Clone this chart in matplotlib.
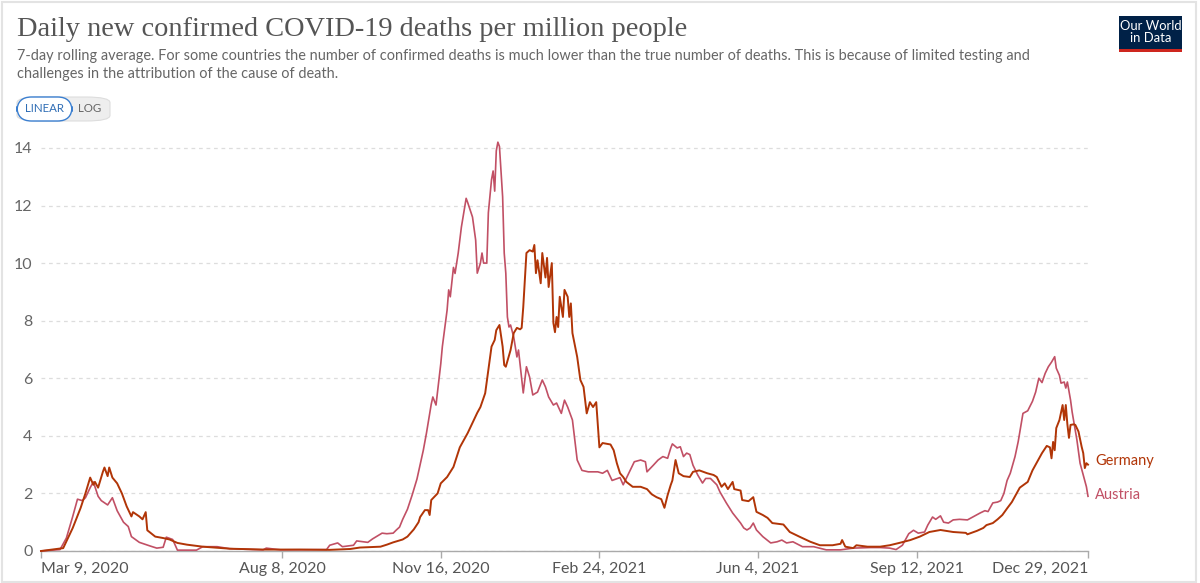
import matplotlib
matplotlib.use('Agg')
import matplotlib.pyplot as plt
import pandas as pd
from matplotlib.patches import FancyBboxPatch, Rectangle

# ---------------- data ----------------
start_date = '2020-03-09'
end_date = '2021-12-29'

austria_days = [0, 12, 16, 20, 23, 26, 28, 31, 33, 36, 38, 42, 45, 48, 52, 55, 57, 62, 69, 73,
                77, 79, 83, 86, 98, 102, 111, 119, 140, 142, 151, 180, 182, 187, 190, 197, 199, 206,
                209, 215, 218, 222, 224, 226, 228, 231, 234, 237, 239, 241, 243, 246, 247, 249, 252,
                253, 256, 257, 258, 260, 261, 263, 265, 268, 269, 272, 274, 275, 277, 278, 279, 281,
                282, 284, 285, 286, 287, 288, 289, 291, 292, 293, 294, 295, 296, 298, 300, 301, 304,
                306, 308, 310, 313, 316, 318, 320, 323, 325, 328, 330, 332, 335, 338, 341, 345, 351,
                354, 357, 360, 365, 367, 370, 374, 378, 381, 382, 386, 389, 392, 395, 397, 398, 401,
                403, 405, 407, 409, 411, 414, 417, 419, 422, 426, 428, 432, 436, 441, 443, 445, 447,
                449, 451, 455, 460, 464, 467, 470, 474, 480, 487, 495, 504, 512, 523, 529, 535, 539,
                543, 547, 550, 553, 557, 559, 562, 564, 567, 569, 572, 575, 579, 584, 588, 592, 595,
                597, 600, 603, 605, 607, 609, 611, 614, 616, 619, 622, 625, 627, 629, 631, 633, 635,
                637, 639, 640, 642, 643, 645, 646, 647, 649, 650, 653, 655, 657, 659, 660]
austria_values = [0.0, 0.05, 0.45, 1.2, 1.8, 1.75, 1.85, 2.2, 2.4, 1.9, 1.75, 1.6, 1.85, 1.4, 1.0,
                  0.85, 0.5, 0.3, 0.17, 0.1, 0.13, 0.48, 0.4, 0.03, 0.03, 0.15, 0.15, 0.08, 0.04, 0.1,
                  0.04, 0.05, 0.2, 0.28, 0.15, 0.2, 0.35, 0.3, 0.42, 0.62, 0.6, 0.62, 0.73, 0.83, 1.1,
                  1.45, 1.95, 2.5, 3.0, 3.5, 4.1, 5.1, 5.35, 5.07, 6.5, 7.1, 8.37, 9.07, 8.83, 9.85,
                  9.64, 10.35, 11.25, 12.25, 12.1, 11.6, 10.8, 9.65, 10.0, 10.35, 10.0, 10.0, 11.75,
                  12.9, 13.2, 12.5, 13.9, 14.2, 14.05, 12.3, 10.35, 9.65, 8.13, 7.78, 7.85, 7.43, 6.74,
                  6.98, 5.49, 6.4, 6.04, 5.42, 5.52, 5.94, 5.7, 5.35, 5.07, 5.14, 4.78, 5.24, 5.0,
                  4.55, 3.16, 2.8, 2.75, 2.75, 2.7, 2.8, 2.45, 2.55, 2.3, 2.64, 3.1, 3.16, 3.1, 2.75,
                  2.98, 3.16, 3.28, 3.22, 3.58, 3.72, 3.58, 3.62, 3.28, 3.4, 3.35, 2.98, 2.64, 2.36,
                  2.52, 2.52, 2.3, 2.05, 1.67, 1.32, 0.97, 0.8, 0.73, 0.8, 0.97, 0.73, 0.5, 0.28, 0.32,
                  0.38, 0.28, 0.32, 0.15, 0.15, 0.04, 0.04, 0.1, 0.12, 0.12, 0.1, 0.05, 0.2, 0.6, 0.72,
                  0.62, 0.66, 0.9, 1.18, 1.1, 1.22, 1.0, 0.97, 1.08, 1.1, 1.08, 1.2, 1.32, 1.4, 1.37,
                  1.67, 1.7, 1.75, 2.0, 2.45, 2.7, 3.28, 3.8, 4.78, 4.87, 5.2, 5.52, 6.0, 5.85, 6.17,
                  6.4, 6.56, 6.75, 6.35, 6.1, 5.83, 5.87, 5.66, 5.87, 5.24, 4.83, 3.86, 3.05, 2.64,
                  2.23, 1.9]

germany_days = [0, 14, 20, 25, 28, 31, 33, 34, 36, 39, 40, 42, 43, 45, 48, 51, 54, 57, 58, 62, 64,
                66, 67, 72, 77, 81, 86, 92, 102, 119, 140, 163, 182, 195, 201, 214, 218, 222, 228,
                231, 235, 238, 239, 242, 244, 245, 246, 250, 252, 256, 260, 264, 269, 272, 275, 277,
                280, 282, 284, 286, 287, 289, 291, 292, 293, 296, 298, 300, 302, 303, 304, 306, 308,
                310, 311, 312, 313, 315, 316, 318, 319, 320, 322, 323, 324, 325, 326, 327, 329, 330,
                332, 333, 334, 335, 338, 340, 342, 344, 346, 348, 350, 352, 354, 359, 361, 363, 365,
                367, 369, 373, 378, 382, 385, 388, 391, 393, 395, 397, 398, 400, 402, 405, 409, 411,
                415, 420, 424, 426, 429, 431, 433, 436, 437, 441, 442, 446, 449, 451, 455, 458, 461,
                468, 472, 478, 485, 491, 499, 504, 505, 507, 512, 514, 521, 529, 535, 541, 548, 554,
                560, 567, 575, 583, 584, 590, 594, 596, 600, 603, 606, 609, 612, 616, 617, 622, 625,
                628, 631, 634, 636, 637, 638, 639, 640, 642, 644, 645, 646, 647, 648, 649, 651, 652,
                654, 656, 657, 658, 659, 660]
germany_values = [0.0, 0.1, 0.8, 1.5, 2.0, 2.55, 2.3, 2.4, 2.2, 2.75, 2.9, 2.6, 2.9, 2.55, 2.35,
                  2.0, 1.55, 1.2, 1.35, 1.2, 1.1, 1.35, 0.72, 0.5, 0.45, 0.4, 0.28, 0.22, 0.15, 0.08,
                  0.05, 0.05, 0.04, 0.07, 0.12, 0.15, 0.22, 0.3, 0.4, 0.5, 0.75, 1.0, 1.18, 1.42,
                  1.42, 1.25, 1.77, 2.0, 2.35, 2.57, 2.92, 3.6, 4.1, 4.45, 4.8, 5.0, 5.48, 6.28, 7.1,
                  7.33, 7.67, 7.85, 7.1, 6.46, 6.4, 6.98, 7.57, 7.75, 7.7, 7.75, 8.47, 10.35, 10.45,
                  10.4, 10.63, 9.65, 10.1, 9.3, 10.35, 9.5, 10.18, 9.17, 10.0, 7.92, 7.6, 8.13, 7.78,
                  8.83, 8.13, 9.07, 8.83, 8.13, 8.6, 7.57, 6.74, 5.94, 5.7, 4.78, 5.17, 5.0, 5.17,
                  3.6, 3.75, 3.7, 3.5, 3.05, 2.7, 2.57, 2.4, 2.23, 2.23, 2.15, 1.97, 1.87, 1.8, 1.5,
                  1.94, 2.3, 2.45, 3.16, 2.7, 2.6, 2.57, 2.75, 2.8, 2.7, 2.64, 2.57, 2.23, 2.35, 2.15,
                  2.4, 2.15, 2.1, 1.77, 1.73, 1.87, 1.36, 1.25, 1.15, 0.97, 0.92, 0.66, 0.5, 0.32, 0.2,
                  0.2, 0.25, 0.38, 0.15, 0.1, 0.2, 0.15, 0.15, 0.2, 0.28, 0.38, 0.5, 0.66, 0.73, 0.66,
                  0.63, 0.58, 0.7, 0.8, 0.9, 0.97, 1.1, 1.25, 1.48, 1.7, 2.1, 2.2, 2.4, 2.8, 3.1, 3.4,
                  3.65, 3.6, 3.22, 3.79, 3.5, 4.27, 4.55, 5.07, 4.55, 5.07, 4.4, 3.93, 4.38, 4.4, 4.38,
                  4.15, 3.62, 3.4, 2.88, 3.05, 3.0]

y_ticks = [0, 2, 4, 6, 8, 10, 12, 14]
tick_dates = ['2020-03-09', '2020-08-08', '2020-11-16', '2021-02-24', '2021-06-04',
              '2021-09-12', '2021-12-29']
tick_labels = ['Mar 9, 2020', 'Aug 8, 2020', 'Nov 16, 2020', 'Feb 24, 2021', 'Jun 4, 2021',
               'Sep 12, 2021', 'Dec 29, 2021']

title = 'Daily new confirmed COVID-19 deaths per million people'
subtitle = ('7-day rolling average. For some countries the number of confirmed deaths is much lower '
            'than the true number of deaths. This is because of limited testing and\n'
            'challenges in the attribution of the cause of death.')

austria_color = '#C15065'
germany_color = '#B13507'

# ---------------- figure ----------------
W, H = 1200, 583
fig = plt.figure(figsize=(W / 100, H / 100), dpi=100)
fig.patch.set_facecolor('white')


def fx(x):
    return x / W


def fy(y):
    return 1 - y / H


ymax = 14.3
ax_left, ax_right, ax_bottom = 41, 1088, 551
ax_top = ax_bottom - ymax * 28.79
ax = fig.add_axes([fx(ax_left), fy(ax_bottom), (ax_right - ax_left) / W, (ax_bottom - ax_top) / H])

start = pd.Timestamp(start_date)
a_dates = start + pd.to_timedelta(austria_days, unit='D')
g_dates = start + pd.to_timedelta(germany_days, unit='D')

ax.plot(a_dates, austria_values, color=austria_color, lw=1.2, clip_on=False, zorder=3)
ax.plot(g_dates, germany_values, color=germany_color, lw=1.4, clip_on=False, zorder=4)

ax.set_xlim(start, pd.Timestamp(end_date))
ax.set_ylim(0, ymax)

ax.set_yticks(y_ticks)
ax.set_yticklabels([str(v) for v in y_ticks])
ax.set_xticks(pd.to_datetime(tick_dates))
ax.set_xticklabels(tick_labels)
xl = ax.get_xticklabels()
xl[0].set_ha('left')
xl[-1].set_ha('right')

for s in ['top', 'right', 'left']:
    ax.spines[s].set_visible(False)
ax.spines['bottom'].set_color('#aaaaaa')
ax.spines['bottom'].set_linewidth(1.0)

ax.tick_params(axis='y', length=0, pad=6, labelsize=11.5, labelcolor='#666666')
ax.tick_params(axis='x', length=5, width=1.0, color='#aaaaaa', pad=3, labelsize=11.5,
               labelcolor='#555555')
for lab in ax.get_xticklabels() + ax.get_yticklabels():
    lab.set_fontfamily(['Lato', 'DejaVu Sans'])

ax.yaxis.grid(True, linestyle=(0, (3, 3)), color='#dddddd', linewidth=0.9)
ax.set_axisbelow(True)
ax.set_facecolor('none')

# end labels
last_a = a_dates[-1]
ax.annotate('Germany', xy=(last_a, 3.13), xytext=(5, 0), textcoords='offset points',
            color=germany_color, fontsize=10.5, va='center', ha='left',
            fontfamily=['Lato', 'DejaVu Sans'], annotation_clip=False)
ax.annotate('Austria', xy=(last_a, 1.95), xytext=(5, 0), textcoords='offset points',
            color=austria_color, fontsize=10.5, va='center', ha='left',
            fontfamily=['Lato', 'DejaVu Sans'], annotation_clip=False)

# ---------------- header ----------------
fig.text(fx(17), fy(36), title, fontsize=20.4, color='#555555', va='baseline', ha='left',
         family=['Liberation Serif', 'DejaVu Serif'])
fig.text(fx(17), fy(49), subtitle, fontsize=10.45, color='#666666', va='top', ha='left',
         family=['Lato', 'DejaVu Sans'], linespacing=1.35)

# LINEAR / LOG toggle
btn_y0, btn_y1 = 97, 121
fig.patches.append(FancyBboxPatch((fx(17), fy(btn_y1)), fx(110) - fx(17), fy(btn_y0) - fy(btn_y1),
                                  boxstyle='round,pad=0,rounding_size=0.02', transform=fig.transFigure,
                                  facecolor='#eeeeee', edgecolor='#dddddd', lw=0.8,
                                  mutation_aspect=H / W * 1.0))
fig.patches.append(FancyBboxPatch((fx(17), fy(btn_y1)), fx(72) - fx(17), fy(btn_y0) - fy(btn_y1),
                                  boxstyle='round,pad=0,rounding_size=0.012', transform=fig.transFigure,
                                  facecolor='white', edgecolor='#3b7fd0', lw=1.0,
                                  mutation_aspect=W / H * 1.0))
fig.text(fx(44.5), fy(109), 'LINEAR', fontsize=8.3, color='#2f6db5', va='center', ha='center',
         family=['Lato', 'DejaVu Sans'])
fig.text(fx(90), fy(109), 'LOG', fontsize=8.3, color='#666666', va='center', ha='center',
         family=['Lato', 'DejaVu Sans'])

# OWID logo
fig.patches.append(Rectangle((fx(1119), fy(52)), fx(1182) - fx(1119), fy(16) - fy(52),
                             transform=fig.transFigure, facecolor='#002147', edgecolor='none'))
fig.patches.append(Rectangle((fx(1119), fy(52)), fx(1182) - fx(1119), fy(49) - fy(52),
                             transform=fig.transFigure, facecolor='#ce261e', edgecolor='none'))
fig.text(fx(1150.5), fy(32), 'Our World\nin Data', fontsize=9.4, color='white', va='center',
         ha='center', family=['Lato', 'DejaVu Sans'], linespacing=0.95)

# light frame
fig.patches.append(Rectangle((fx(1.5), fy(H - 1.5)), fx(1196) - fx(1.5), fy(1.5) - fy(H - 1.5),
                             transform=fig.transFigure, facecolor='none', edgecolor='#e3e3e3', lw=1.5))

fig.savefig('out.png', dpi=100)
